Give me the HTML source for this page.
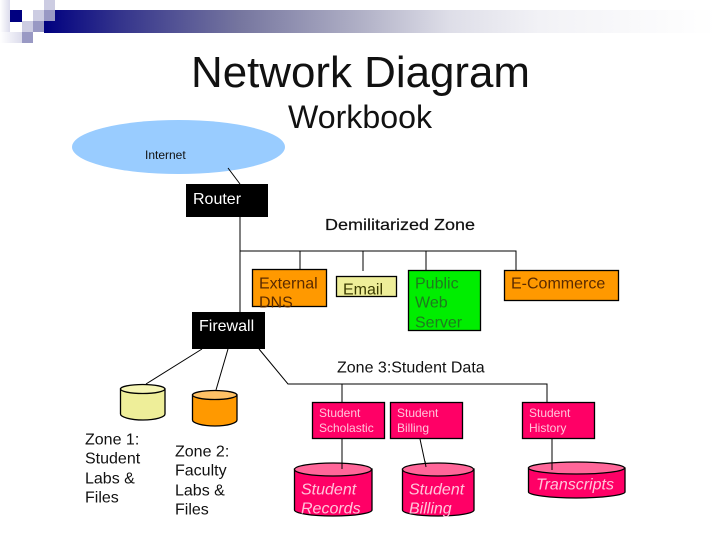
<!DOCTYPE html>
<html><head><meta charset="utf-8"><style>
html,body{margin:0;padding:0;background:#fff;width:720px;height:540px;overflow:hidden}
svg{display:block}
text{font-family:"Liberation Sans",sans-serif;fill:#111}
.w{fill:#fff}
.p{fill:#ffc4da;font-size:12px}
.i{fill:#ffc4da;font-size:16px;font-style:italic}
.t{font-size:16px}
.b{stroke:#000;stroke-width:1.3}
.l{stroke:#000;stroke-width:1;fill:none}
</style></head><body>
<svg width="720" height="540" viewBox="0 0 720 540" xmlns="http://www.w3.org/2000/svg">
<defs>
<linearGradient id="bar" gradientUnits="userSpaceOnUse" x1="44" y1="0" x2="716" y2="0">
<stop offset="0" stop-color="#000080"/>
<stop offset=".113" stop-color="#34348c"/>
<stop offset=".292" stop-color="#76769f"/>
<stop offset=".47" stop-color="#b0b0c6"/>
<stop offset=".604" stop-color="#dedee8"/>
<stop offset=".738" stop-color="#f2f2f6"/>
<stop offset="1" stop-color="#fff"/>
</linearGradient>
<linearGradient id="fade"><stop offset="0" stop-color="#fff"/><stop offset="1" stop-color="#dcdcec"/></linearGradient>
</defs>
<rect x="44" y="21" width="672" height="12" fill="url(#bar)"/>
<rect x="55" y="10" width="661" height="11" fill="url(#bar)"/>
<rect x="0" y="0" width="10" height="43" fill="url(#fade)"/>
<rect x="0" y="32" width="22" height="11" fill="url(#fade)"/>
<rect x="10" y="10" width="12" height="12" fill="#000080"/>
<rect x="33" y="10" width="11" height="11" fill="#ccccE2"/>
<rect x="44" y="0" width="11" height="10" fill="#ccccE2"/>
<rect x="44" y="10" width="11" height="11" fill="#9999c4"/>
<rect x="22" y="21" width="11" height="11" fill="#ccccE2"/>
<rect x="33" y="21" width="11" height="11" fill="#9999c4"/>
<rect x="22" y="32" width="11" height="11" fill="#9999c4"/>

<text x="191" y="87" font-size="44" textLength="339" lengthAdjust="spacingAndGlyphs">Network Diagram</text>
<text x="288" y="128" font-size="32" textLength="144" lengthAdjust="spacingAndGlyphs">Workbook</text>

<ellipse cx="178.500" cy="147" rx="106.500" ry="27" fill="#99ccff"/>
<text x="145" y="159" font-size="12">Internet</text>

<path class="l" d="M228 168L240 184M240 217V312M240 251H516V270M300 251V270M363 251V271M426 251V270"/>
<path class="l" d="M202 349L146 384M228 349L216 390M259 349L288 384H547V402M342 384V402M342 439V469M420 439L426 467M552 439V462"/>

<rect x="186" y="184" width="82" height="33" fill="#000"/>
<text class="w t" x="193" y="204">Router</text>
<text x="325" y="230" class="t" stroke="#111" stroke-width=".2" textLength="150" lengthAdjust="spacingAndGlyphs">Demilitarized Zone</text>

<rect class="b" x="252.500" y="269.500" width="74" height="37" fill="#ff9900"/>
<text class="t" x="259" y="288.500" style="fill:#5a2a00">External</text>
<text class="t" x="259" y="307.500" style="fill:#5a2a00">DNS</text>
<rect class="b" x="336.500" y="276.500" width="60" height="20" fill="#eeee99"/>
<text class="t" x="343" y="294.500" style="fill:#3a3a00">Email</text>
<rect class="b" x="408.500" y="270.500" width="72" height="60" fill="#00ee00"/>
<text class="t" x="415" y="288.500" style="fill:#1e7a1e">Public</text>
<text class="t" x="415" y="307.500" style="fill:#1e7a1e">Web</text>
<text class="t" x="415" y="327.500" style="fill:#1e7a1e">Server</text>
<rect class="b" x="504.500" y="270.500" width="114" height="30" fill="#ff9900"/>
<text class="t" x="511" y="288.500" style="fill:#5a2a00">E-Commerce</text>

<rect x="192" y="312" width="73" height="37" fill="#000"/>
<text class="w t" x="199" y="331">Firewall</text>
<text class="t" x="337" y="372.500">Zone 3:Student Data</text>

<path class="b" d="M120.500 389V414C120.500 417 130 420 143 420S165 417 165 414V389Z" fill="#eeee99"/>
<ellipse class="b" cx="142.700" cy="389" rx="22.200" ry="4.500" fill="#f5f5b5"/>
<path class="b" d="M192.500 395V420C192.500 423 202 426 215 426S237 423 237 420V395Z" fill="#ff9900"/>
<ellipse class="b" cx="214.700" cy="395" rx="22.200" ry="4.500" fill="#ffc266"/>

<text class="t" x="85" y="444.500">Zone 1:</text>
<text class="t" x="85" y="463.500">Student</text>
<text class="t" x="85" y="483.500">Labs &amp;</text>
<text class="t" x="85" y="502.500">Files</text>
<text class="t" x="175" y="456.500">Zone 2:</text>
<text class="t" x="175" y="475.500">Faculty</text>
<text class="t" x="175" y="495.500">Labs &amp;</text>
<text class="t" x="175" y="514.500">Files</text>

<rect class="b" x="312.500" y="402.500" width="72" height="36" fill="#ff0066"/>
<text class="p" x="319" y="417">Student</text>
<text class="p" x="319" y="432">Scholastic</text>
<rect class="b" x="390.500" y="402.500" width="72" height="36" fill="#ff0066"/>
<text class="p" x="397" y="417">Student</text>
<text class="p" x="397" y="432">Billing</text>
<rect class="b" x="522.500" y="402.500" width="72" height="36" fill="#ff0066"/>
<text class="p" x="529" y="417">Student</text>
<text class="p" x="529" y="432">History</text>

<path class="b" d="M294.500 469V510C294.500 513 310 516 333 516S372 513 372 510V469Z" fill="#ff0066"/>
<ellipse class="b" cx="333" cy="469.500" rx="38.500" ry="6.500" fill="#ff6699"/>
<path class="l" d="M342 463V469"/>
<text class="i" x="301" y="494.500">Student</text>
<text class="i" x="301" y="513.500">Records</text>

<path class="b" d="M402.500 469V510C402.500 513 416 516 438 516S474 513 474 510V469Z" fill="#ff0066"/>
<ellipse class="b" cx="438" cy="469.500" rx="35.500" ry="6.500" fill="#ff6699"/>
<path class="l" d="M425 461L426 467"/>
<text class="i" x="409" y="494.500">Student</text>
<text class="i" x="409" y="513.500">Billing</text>

<path class="b" d="M528.500 468V492C528.500 495 550 498 576 498S625 495 625 492V468Z" fill="#ff0066"/>
<ellipse class="b" cx="576.500" cy="468" rx="48" ry="6" fill="#ff6699"/>
<path class="l" d="M552 462V470"/>
<text class="i" x="536" y="489.500">Transcripts</text>
</svg>
</body></html>
